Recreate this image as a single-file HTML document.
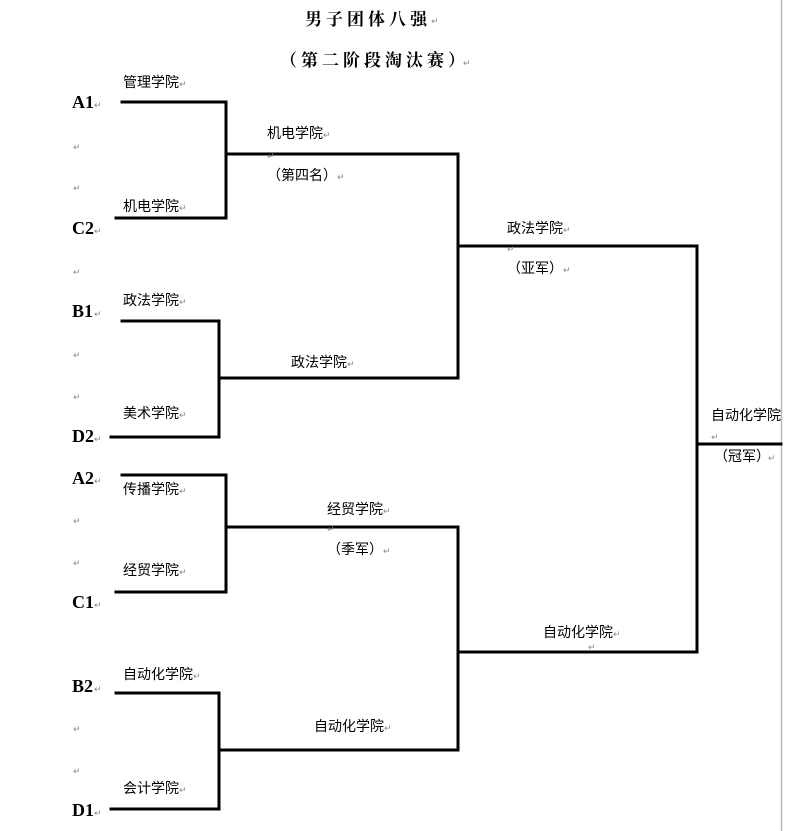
<!DOCTYPE html>
<html><head><meta charset="utf-8"><style>
html,body{margin:0;padding:0;background:#fff;}
svg{display:block;}
.c{font-family:"Liberation Sans","Noto Sans CJK SC",sans-serif;font-size:14px;fill:#000;}
.l{font-family:"Liberation Serif",serif;font-weight:bold;font-size:18px;fill:#000;}
.t{font-family:"Liberation Serif","Noto Serif CJK SC",serif;font-weight:bold;font-size:17px;fill:#000;letter-spacing:4px;}
.r{font-family:"DejaVu Sans",sans-serif;font-size:9px;fill:#888;}
</style></head><body>
<svg width="787" height="831" viewBox="0 0 787 831" xmlns="http://www.w3.org/2000/svg">
<line x1="781.5" y1="0" x2="781.5" y2="831" stroke="#bbb" stroke-width="1.5"/>
<g stroke="#000" stroke-width="3" fill="none" stroke-linecap="square">
<polyline points="122,102 226,102 226,218 116,218"/>
<line x1="226" y1="154" x2="458" y2="154"/>
<polyline points="122,321 219,321 219,437 111,437"/>
<line x1="219" y1="378" x2="458" y2="378"/>
<line x1="458" y1="154" x2="458" y2="378"/>
<line x1="458" y1="246" x2="697" y2="246"/>
<polyline points="122,475 226,475 226,592 116,592"/>
<line x1="226" y1="527" x2="458" y2="527"/>
<polyline points="116,693 219,693 219,809 111,809"/>
<line x1="219" y1="750" x2="458" y2="750"/>
<line x1="458" y1="527" x2="458" y2="748"/>
<line x1="458" y1="652" x2="697" y2="652"/>
<line x1="697" y1="246" x2="697" y2="652"/>
<line x1="697" y1="444" x2="781" y2="444"/>
</g>
<text class="t" x="305" y="25">男子团体八强</text><text class="r" x="431" y="24">↵</text>
<text class="t" x="280" y="66">（第二阶段淘汰赛）</text><text class="r" x="463" y="66">↵</text>
<g class="l">
<text x="72" y="108">A1</text><text x="72" y="234">C2</text>
<text x="72" y="317">B1</text><text x="72" y="442">D2</text>
<text x="72" y="484">A2</text><text x="72" y="608">C1</text>
<text x="72" y="692">B2</text><text x="72" y="816">D1</text>
</g>
<g class="r">
<text x="94" y="108">↵</text><text x="94" y="234">↵</text><text x="94" y="317">↵</text><text x="94" y="442">↵</text>
<text x="94" y="484">↵</text><text x="94" y="608">↵</text><text x="94" y="692">↵</text><text x="94" y="816">↵</text>
<text x="73" y="150">↵</text><text x="73" y="191">↵</text><text x="73" y="275">↵</text>
<text x="73" y="358">↵</text><text x="73" y="400">↵</text>
<text x="73" y="524">↵</text><text x="73" y="566">↵</text>
<text x="73" y="732">↵</text><text x="73" y="774">↵</text>
<text x="267" y="159">↵</text><text x="507" y="252">↵</text><text x="327" y="532">↵</text>
<text x="588" y="650">↵</text><text x="711" y="440">↵</text>
<text x="179" y="87">↵</text><text x="179" y="211">↵</text><text x="179" y="305">↵</text><text x="179" y="418">↵</text>
<text x="179" y="494">↵</text><text x="179" y="575">↵</text><text x="193" y="679">↵</text><text x="179" y="793">↵</text>
<text x="323" y="138">↵</text><text x="337" y="180">↵</text><text x="563" y="233">↵</text><text x="563" y="273">↵</text>
<text x="347" y="367">↵</text><text x="383" y="514">↵</text><text x="383" y="554">↵</text>
<text x="613" y="637">↵</text><text x="384" y="731">↵</text><text x="768" y="461">↵</text>
</g>
<g class="c">
<text x="123" y="87">管理学院</text><text x="123" y="211">机电学院</text>
<text x="123" y="305">政法学院</text><text x="123" y="418">美术学院</text>
<text x="123" y="494">传播学院</text><text x="123" y="575">经贸学院</text>
<text x="123" y="679">自动化学院</text><text x="123" y="793">会计学院</text>
<text x="267" y="138">机电学院</text><text x="267" y="180">（第四名）</text>
<text x="507" y="233">政法学院</text><text x="507" y="273">（亚军）</text>
<text x="291" y="367">政法学院</text>
<text x="327" y="514">经贸学院</text><text x="327" y="554">（季军）</text>
<text x="543" y="637">自动化学院</text>
<text x="314" y="731">自动化学院</text>
<text x="711" y="420">自动化学院</text><text x="714" y="461">（冠军）</text>
</g>
</svg>
</body></html>
